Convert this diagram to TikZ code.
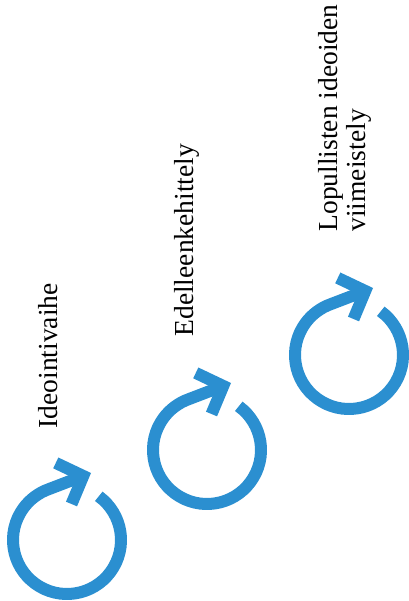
\documentclass[tikz,border=0pt]{standalone}
\usepackage{fontspec}
\setmainfont{Liberation Serif}
\usetikzlibrary{arrows.meta, calc}
\definecolor{loopblue}{HTML}{2B8FD0}

\tikzset{
  phase/.style={rotate=90, anchor=base west, align=left,
                font=\fontsize{27.5}{28}\selectfont},
  loop/.style={draw=loopblue, line width=12pt,
               -{Straight Barb[length=21pt, width=44pt]}},
}

\begin{document}
\begin{tikzpicture}[x=1pt, y=1pt]
    \useasboundingbox (0,0) rectangle (408,601);
    % loop centres
    \coordinate (c1) at (67,61);
    \coordinate (c2) at (207,151);
    \coordinate (c3) at (349,246);
    % the three loops
    \foreach \c in {c1,c2,c3}
      \draw[loop] ($(\c)+(54:54)$) arc[start angle=54, end angle=-250, radius=54]
        -- ($(\c)+(24,67)$);
    % phase labels
    \node[phase] (ideointi) at ($(c1)+(-10,108)$) {Ideointivaihe};
    \node[phase] (kehitys) at ($(c2)+(-14,110)$) {Edelleenkehittely};
    \node[phase] (viimeistely) at ($(c3)+(16,120)$)
      {Lopullisten ideoiden\\viimeistely};
  \end{tikzpicture}
\end{document}
